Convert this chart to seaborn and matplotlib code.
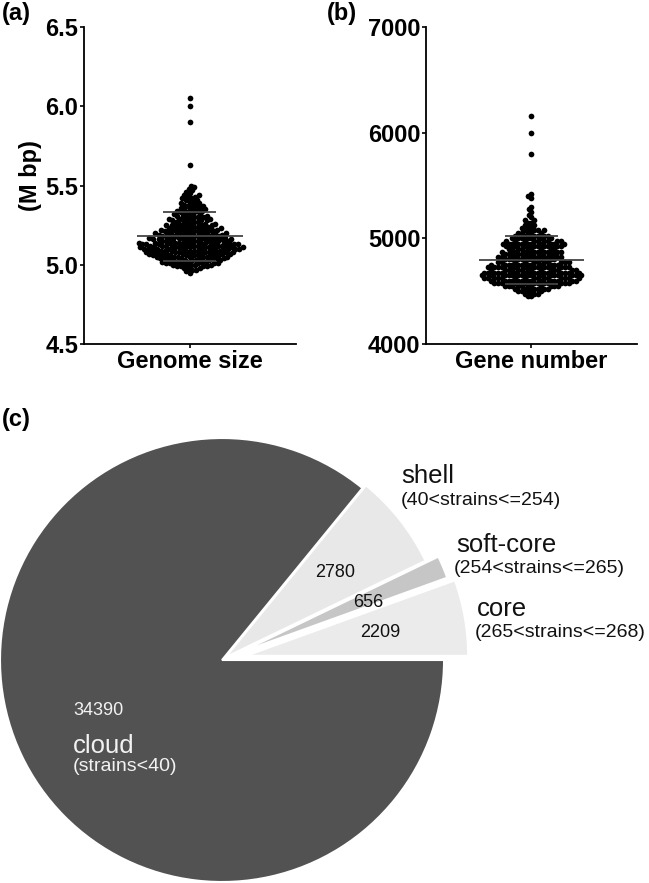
import numpy as np
import pandas as pd
import matplotlib
matplotlib.use("Agg")
import matplotlib.pyplot as plt
import seaborn as sns

# genome size (M bp): bin value -> number of strains
genome_bins = [4.95, 4.96, 4.97, 4.98, 4.99, 5.00, 5.01, 5.02, 5.03, 5.04,
               5.05, 5.06, 5.07, 5.08, 5.09, 5.10, 5.11, 5.12, 5.13, 5.14,
               5.15, 5.16, 5.17, 5.18, 5.19, 5.20, 5.21, 5.22, 5.23, 5.24,
               5.25, 5.26, 5.27, 5.28, 5.29, 5.30, 5.31, 5.32, 5.33, 5.34,
               5.35, 5.36, 5.37, 5.38, 5.39, 5.40, 5.41, 5.42, 5.43, 5.44,
               5.45, 5.46, 5.47, 5.48, 5.49, 5.50, 5.63, 5.90, 6.00, 6.05]
genome_counts = [1, 1, 2, 3, 4, 5, 6, 6, 6, 8,
                 7, 8, 8, 9, 10, 10, 10, 10, 9, 9,
                 8, 8, 7, 8, 6, 7, 6, 6, 5, 5,
                 5, 4, 4, 4, 4, 4, 3, 3, 3, 3,
                 3, 3, 2, 3, 2, 2, 2, 2, 2, 2,
                 1, 1, 1, 1, 1, 1, 1, 1, 1, 1]

# gene number: bin value -> number of strains
gene_bins = [4450, 4475, 4500, 4525, 4550, 4575, 4600, 4625, 4650, 4675,
             4700, 4725, 4750, 4775, 4800, 4825, 4850, 4875, 4900, 4925,
             4950, 4975, 5000, 5025, 5050, 5075, 5100, 5125, 5150, 5175,
             5200, 5225, 5250, 5275, 5300, 5380, 5400, 5420, 5800, 6000, 6160]
gene_counts = [2, 3, 5, 6, 11, 12, 14, 15, 16, 15,
               14, 13, 12, 11, 10, 10, 10, 9, 9, 9,
               11, 9, 7, 6, 5, 4, 3, 2, 2, 2,
               1, 1, 1, 1, 1, 1, 1, 1, 1, 1, 1]

# pan-genome categories
pie_labels = ["core", "soft-core", "shell", "cloud"]
pie_ranges = ["(265<strains<=268)", "(254<strains<=265)", "(40<strains<=254)", "(strains<40)"]
pie_values = [2209, 656, 2780, 34390]
pie_colors = ["#ebebeb", "#c6c6c6", "#e8e8e8", "#525252"]

genome = pd.Series(np.repeat(genome_bins, genome_counts))
genes = pd.Series(np.repeat(gene_bins, gene_counts))

sns.set_style("ticks")
plt.rcParams["font.family"] = ["Liberation Sans", "DejaVu Sans"]
plt.rcParams["text.color"] = "black"
plt.rcParams["axes.labelcolor"] = "black"

fig = plt.figure(figsize=(6.49, 8.83), dpi=100)
ax_a = fig.add_axes([0.1294, 0.6104, 0.3267, 0.359])
ax_b = fig.add_axes([0.6564, 0.6104, 0.3251, 0.359])


def scatter_panel(ax, vals, label, ylim, yticks):
    sns.swarmplot(y=vals, ax=ax, color="black", size=2.7, linewidth=0)
    m, s = vals.mean(), vals.std()
    ax.hlines(m, -0.25, 0.25, color="#444444", lw=1.3, zorder=5)
    ax.hlines([m - s, m + s], -0.125, 0.125, color="#444444", lw=1.3, zorder=5)
    ax.set_xlim(-0.5, 0.5)
    ax.set_ylim(*ylim)
    ax.set_yticks(yticks)
    ax.set_xticks([0])
    ax.set_xticklabels([label])
    ax.set_ylabel("")
    sns.despine(ax=ax)
    for sp in ax.spines.values():
        sp.set_linewidth(1.3)
        sp.set_color("black")
    ax.tick_params(length=3, width=1.2, pad=1, labelsize=17, colors="black")
    for t in ax.get_xticklabels() + ax.get_yticklabels():
        t.set_fontweight("bold")


scatter_panel(ax_a, genome, "Genome size", (4.5, 6.5), [4.5, 5.0, 5.5, 6.0, 6.5])
ax_a.set_yticklabels(["4.5", "5.0", "5.5", "6.0", "6.5"])
for t in ax_a.get_yticklabels():
    t.set_fontweight("bold")
ax_a.set_ylabel("(M bp)", fontsize=17, fontweight="bold", color="black")
ax_a.yaxis.set_label_coords(-0.20, 0.53)

scatter_panel(ax_b, genes, "Gene number", (4000, 7000), [4000, 5000, 6000, 7000])

# seaborn lays the swarm out at draw time; freeze that layout, then enlarge
# the dots so they overlap like the original scatter
fig.canvas.draw()
for ax in (ax_a, ax_b):
    dots = ax.collections[0]
    if "draw" in dots.__dict__:
        del dots.draw
    dots.set_sizes([4.1 ** 2])

fig.text(0.003, 0.998, "(a)", fontsize=17, fontweight="bold", va="top", color="black")
fig.text(0.503, 0.998, "(b)", fontsize=17, fontweight="bold", va="top", color="black")
fig.text(0.003, 0.512, "(c)", fontsize=17, fontweight="bold", va="bottom", color="black")

# pie chart
ax_c = fig.add_axes([0, 0, 1, 0.513])
ax_c.pie(pie_values, colors=pie_colors, startangle=0, counterclock=True,
         explode=[0.11, 0.08, 0.02, 0], radius=1,
         wedgeprops=dict(edgecolor="white", linewidth=1.5))
ax_c.set_xlim(-1, 1.923)
ax_c.set_ylim(-1.0045, 1.036)
ax_c.set_aspect("auto")
ax_c.axis("off")

name_pos = [(1.149, 0.198), (1.054, 0.486), (0.806, 0.797), (-0.671, -0.419)]
range_pos = [(1.140, 0.104), (1.045, 0.392), (0.806, 0.698), (-0.671, -0.50)]
num_pos = [(0.712, 0.122), (0.658, 0.261), (0.509, 0.392), (-0.671, -0.248)]
for i, lab in enumerate(pie_labels):
    c = "#f2f2f2" if lab == "cloud" else "#111111"
    ax_c.text(*name_pos[i], lab, fontsize=18.5, color=c, va="baseline", ha="left")
    ax_c.text(*range_pos[i], pie_ranges[i], fontsize=14, color=c, va="baseline", ha="left")
    if lab == "cloud":
        ax_c.text(*num_pos[i], str(pie_values[i]), fontsize=13, color=c, va="baseline", ha="left")
    else:
        ax_c.text(*num_pos[i], str(pie_values[i]), fontsize=13, color=c, va="center", ha="center")

fig.savefig("out.png", dpi=100)
